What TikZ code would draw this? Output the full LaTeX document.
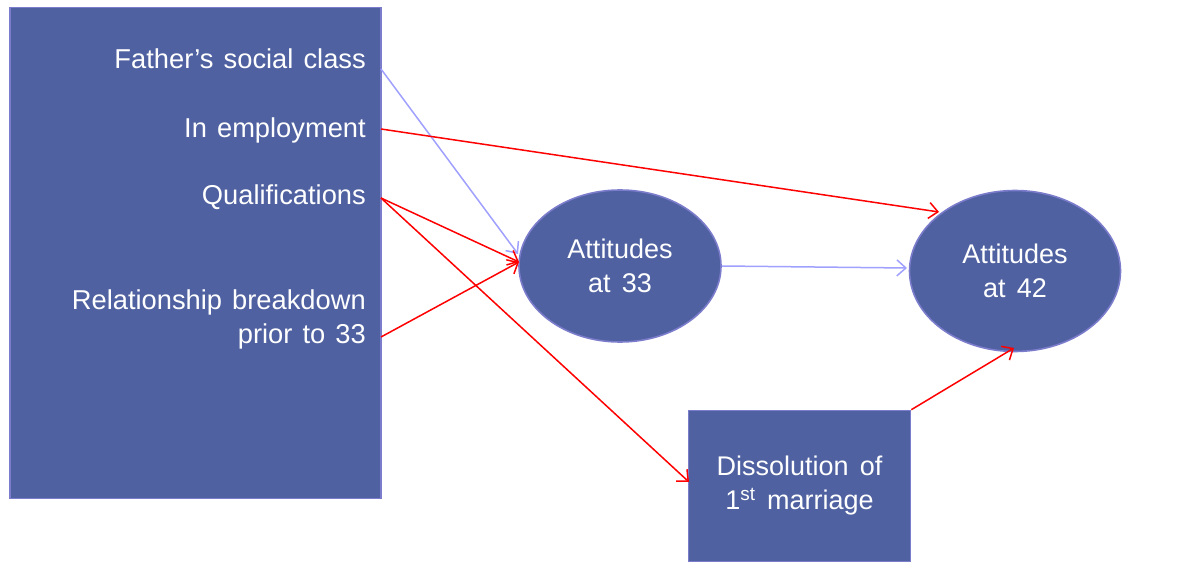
\documentclass[tikz,border=0pt]{standalone}
\usepackage{fontspec}
\setmainfont{Liberation Sans}
\usetikzlibrary{shapes.geometric,arrows.meta}
\definecolor{boxfill}{RGB}{79,97,160}
\definecolor{boxline}{RGB}{124,124,204}
\definecolor{linkred}{RGB}{255,0,0}
\definecolor{linkblue}{RGB}{160,160,255}
\newcommand{\diagfont}{\fontsize{27}{34}\selectfont\spaceskip=0.42em}
\newcommand{\predfont}{\fontsize{27.3}{34}\selectfont\spaceskip=0.37em}
\tikzset{
  block/.style={draw=boxline, line width=1.6pt, fill=boxfill, inner sep=0pt},
  oval/.style={block, ellipse, text=white, align=center, font=\diagfont},
  label/.style={text=white, inner sep=0pt, anchor=base east, font=\predfont},
  link/.style={line width=1.5pt, -{Straight Barb[length=9pt,width=16pt]}},
  redlink/.style={link, draw=linkred},
  bluelink/.style={link, draw=linkblue},
}
\begin{document}
\begin{tikzpicture}[x=1pt,y=-1pt]
\useasboundingbox (0,0) rectangle (1182,577);

% predictors block
\node[block, minimum width=371pt, minimum height=491pt] (pred) at (195.5,253) {};
\node[label] (fsc) at (366,69) {Father’s social class};
\node[label] (emp) at (366,138) {In employment};
\node[label] (qual) at (366,205) {Qualifications};
\node[label] (rel1) at (366,309) {Relationship breakdown};
\node[label] (rel2) at (366,343) {prior to 33};

% connector origins on the block's right edge
\coordinate (oF) at (381,69);
\coordinate (oE) at (381,129);
\coordinate (oQ) at (381,198);
\coordinate (oR) at (381,337);

% outcome nodes
\node[oval, minimum width=202pt, minimum height=152pt] (a33) at (620,266) {Attitudes\\at 33};
\node[oval, minimum width=211pt, minimum height=161pt] (a42) at (1015,271) {Attitudes\\at 42};
\node[block, minimum width=222pt, minimum height=151pt, text=white, align=center,
  font=\diagfont] (diss) at (799.5,486)
  {Dissolution of\\1\textsuperscript{st} marriage};

% connector end points on the outcome nodes
\coordinate (t33b) at (518,254);
\coordinate (t33r) at (519,262);
\coordinate (t42a) at (939,212);
\coordinate (t42b) at (907,268);
\coordinate (t42c) at (1014,348);
\coordinate (tD) at (689,482);

% paths
\draw[bluelink] (oF) -- (t33b);
\draw[redlink] (oE) -- (t42a);
\draw[redlink] (oQ) -- (t33r);
\draw[redlink] (oQ) -- (tD);
\draw[redlink] (oR) -- (t33r);
\draw[bluelink] (a33.east) -- (t42b);
\draw[redlink] (diss.north east) -- (t42c);
\end{tikzpicture}
\end{document}
